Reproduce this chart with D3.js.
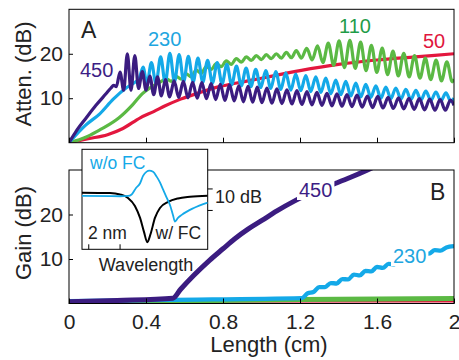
<!DOCTYPE html>
<html>
<head>
<meta charset="utf-8">
<script src="https://cdn.jsdelivr.net/npm/d3@7"></script>
<style>
  body { margin: 0; background: #fff; }
  text { font-family: "Liberation Sans", Arial, sans-serif; fill: #222; }
</style>
</head>
<body>
<div id="chart"></div>
<script>
// ---- data (length in cm, attenuation / gain in dB) ----
const series = ["50", "110", "230", "450"];
const colors = { "50": "#e3173e", "110": "#5bb944", "230": "#14a9e8", "450": "#3b1c80" };
const labelColors = { "50": "#e0163e", "110": "#1f9c48", "230": "#1ea6e0", "450": "#3c1e85" };
const lengthTicks = [0, 0.4, 0.8, 1.2, 1.6, 2];
const dbTicks = [10, 20];

const att50 = [[0,0],[0.1,0.9],[0.2,1.8],[0.28,3.2],[0.37,5.6],[0.44,7.0],[0.5,8.3],[0.58,9.8],[0.68,11.3],[0.78,12.6],[0.89,13.6],[1.0,14.5],[1.2,16.2],[1.4,17.6],[1.6,18.6],[1.8,19.3],[2.0,20.0]];

const att110 = [[0,0],[0.09,1.3],[0.16,2.9],[0.19,3.6],[0.26,5.6],[0.33,8.5],[0.38,11.0],[0.43,12.6],[0.48,13.8],
  [0.505,14.4],[0.531,13.8],[0.557,14.9],[0.583,14.3],[0.609,15.5],[0.635,14.8],[0.661,16.3],[0.687,15.6],[0.713,17.1],[0.739,16.5],
  [0.765,17.8],[0.791,17.1],[0.817,18.4],[0.843,17.6],[0.869,18.9],[0.895,18.1],[0.921,19.3],[0.947,18.5],[0.973,19.6],[0.999,18.7],
  [1.025,19.8],[1.051,18.9],[1.077,20.0],[1.103,19.0],[1.129,20.3],[1.155,19.1],[1.181,20.7],[1.207,19.0],
  [1.235,21.2],[1.263,18.6],[1.291,21.8],[1.319,18.0],[1.347,22.4],[1.375,17.4],[1.403,22.9],[1.431,16.9],[1.459,23.0],[1.487,16.7],
  [1.515,22.6],[1.543,16.2],[1.571,21.9],[1.599,15.8],[1.627,21.3],[1.655,15.3],[1.683,20.6],[1.711,15.0],[1.739,20.1],[1.767,14.8],
  [1.795,19.6],[1.823,14.5],[1.851,19.0],[1.879,14.2],[1.907,18.6],[1.935,13.9],[1.963,18.2],[1.991,13.7],[2.0,14.3]];

const att230 = [[0,0],[0.088,4.0],[0.16,6.5],[0.23,9.8],[0.30,12.4],[0.335,13.4],[0.365,14.5],
  [0.385,17.0],[0.405,13.2],[0.428,18.0],[0.452,13.3],[0.476,19.3],[0.500,13.5],[0.524,20.1],[0.548,13.7],[0.572,19.8],[0.596,13.8],
  [0.620,19.4],[0.645,13.7],[0.670,19.0],[0.695,13.6],[0.720,18.5],[0.745,13.4],[0.770,18.0],[0.795,13.2],[0.820,17.6],[0.845,13.0],
  [0.870,17.2],[0.895,12.8],[0.920,16.8],[0.945,12.6],[0.970,16.5],[0.996,12.4],[1.022,16.2],[1.048,12.2],[1.074,16.0],[1.100,12.0],
  [1.126,15.7],[1.152,11.8],[1.178,15.4],[1.204,11.7],[1.230,15.1],[1.256,11.5],[1.282,14.8],[1.308,11.3],[1.334,14.5],[1.360,11.0],
  [1.386,14.1],[1.412,10.8],[1.438,13.8],[1.464,10.5],[1.490,13.4],[1.516,10.3],[1.542,13.1],[1.568,10.2],[1.594,12.8],[1.620,10.0],
  [1.646,12.5],[1.672,9.9],[1.698,12.3],[1.724,9.8],[1.750,12.0],[1.776,9.7],[1.802,11.8],[1.828,9.6],[1.854,11.6],[1.880,9.5],
  [1.906,11.4],[1.932,9.4],[1.958,11.2],[1.984,9.3],[2.0,10.0]];

const att450 = [[0,0],[0.036,2.5],[0.088,5.5],[0.14,8.4],[0.192,11.0],[0.218,12.3],[0.232,12.9],[0.246,12.6],
  [0.265,15.9],[0.284,11.8],[0.303,20.0],[0.322,11.8],[0.342,19.6],[0.361,12.2],[0.381,16.0],[0.400,11.8],[0.420,15.0],[0.440,10.8],
  [0.460,14.8],[0.480,10.5],[0.501,14.2],[0.523,10.3],[0.546,13.9],[0.570,10.2],[0.594,13.8],[0.618,10.1],[0.642,13.6],[0.666,10.0],
  [0.690,13.5],[0.714,9.9],[0.738,13.3],[0.762,9.7],[0.786,13.1],[0.810,9.5],[0.834,13.0],[0.858,9.4],[0.882,12.8],[0.906,9.2],
  [0.930,12.7],[0.954,9.1],[0.978,12.5],[1.002,9.0],[1.028,12.3],[1.054,8.9],[1.080,12.1],[1.106,8.8],[1.132,11.9],[1.158,8.7],
  [1.184,11.7],[1.210,8.6],[1.236,11.5],[1.262,8.5],[1.288,11.3],[1.314,8.4],[1.340,11.1],[1.366,8.3],[1.392,11.0],[1.418,8.2],
  [1.444,10.8],[1.470,8.1],[1.496,10.7],[1.523,8.0],[1.550,10.5],[1.577,7.9],[1.604,10.4],[1.631,7.8],[1.658,10.2],[1.685,7.7],
  [1.712,10.1],[1.739,7.6],[1.766,10.0],[1.793,7.5],[1.820,9.9],[1.847,7.4],[1.874,9.8],[1.901,7.3],[1.928,9.7],[1.955,7.3],
  [1.982,9.6],[2.0,8.4]];

const gain50 = [[0,0.35],[2.0,0.4]];
const gain110 = [[0,0.3],[1.2,0.9],[2.0,1.1]];
const gain230 = [[0,0.5],[0.5,0.8],[1.21,1.2],[1.24,2.3],[1.27,2.6],[1.30,3.7],[1.33,3.7],[1.36,4.6],[1.39,4.5],[1.42,5.5],
  [1.45,5.4],[1.48,6.5],[1.51,6.3],[1.54,7.3],[1.57,7.2],[1.60,8.2],[1.63,8.0],[1.66,8.9],[1.69,8.8],[1.72,9.7],[1.75,9.6],
  [1.78,10.5],[1.81,10.4],[1.84,11.3],[1.87,11.2],[1.90,12.0],[1.93,11.9],[1.96,12.6],[2.0,12.9]];
const gain450 = [[0,0.4],[0.25,0.7],[0.54,1.2],[0.58,3.2],[0.65,6.4],[0.73,9.7],[0.8,12.3],[0.86,14.5],[0.93,16.7],[1.0,18.6],
  [1.08,20.8],[1.17,23.0],[1.25,24.7],[1.38,26.9],[1.46,28.3],[1.545,29.9],[1.6,31.0]];

// inset: relative wavelength (nm) vs transmission (dB)
const insetNmTicks = [0, 2];
const insetDbTicks = [0, -10];
const withFC = [[-0.4,-1.95],[1.39,-2.09],[2.03,-2.79],[2.54,-4.42],[2.98,-8.14],[3.31,-13.7],[3.56,-20.2],[3.77,-25.0],
  [3.98,-21.2],[4.26,-13.7],[4.58,-9.07],[5.10,-6.28],[5.73,-4.65],[6.50,-3.86],[7.63,-3.35]];
const withoutFC = [[-0.4,-3.49],[2.03,-3.63],[2.54,-3.49],[2.77,-2.79],[3.05,0.23],[3.31,2.42],[3.50,5.81],[3.73,7.81],
  [3.90,8.28],[4.14,7.77],[4.37,5.49],[4.58,2.79],[4.79,-0.70],[5.0,-4.19],[5.22,-7.67],[5.41,-12.3],[5.54,-15.4],
  [5.73,-13.7],[5.97,-12.3],[6.71,-9.21],[7.63,-6.60]];

const attData = { "50": att50, "110": att110, "230": att230, "450": att450 };
const gainData = { "50": gain50, "110": gain110, "230": gain230, "450": gain450 };

// ---- layout ----
const W = 459, H = 360;
const svg = d3.select("#chart").append("svg")
  .attr("width", W).attr("height", H)
  .attr("viewBox", `0 0 ${W} ${H}`);

const x = d3.scaleLinear().domain([0, 2]).range([69, 454]);
const yA = d3.scaleLinear().domain([0, 30]).range([142.7, 9.3]);
const yG = d3.scaleLinear().domain([0, 30]).range([303.5, 170]);

function panel(id, y) {
  const g = svg.append("g");
  svg.append("clipPath").attr("id", id)
    .append("rect")
    .attr("x", x(0)).attr("y", y(30))
    .attr("width", x(2) - x(0)).attr("height", y(0) - y(30));
  g.append("rect")
    .attr("x", x(0)).attr("y", y(30))
    .attr("width", x(2) - x(0)).attr("height", y(0) - y(30))
    .attr("fill", "#fff");
  return g;
}

function frame(g, y, withLabels) {
  g.append("rect")
    .attr("x", x(0)).attr("y", y(30))
    .attr("width", x(2) - x(0)).attr("height", y(0) - y(30))
    .attr("fill", "none").attr("stroke", "#000").attr("stroke-width", 1);

  const ax = g.append("g")
    .attr("transform", `translate(0,${y(0)})`)
    .call(d3.axisBottom(x).tickValues(lengthTicks).tickSize(-5).tickPadding(11)
      .tickFormat(withLabels ? d3.format("") : ""));
  ax.select(".domain").remove();
  ax.selectAll("text").style("font-size", "21px").attr("fill", "#222");
  ax.selectAll("line").attr("stroke", "#000");

  const ay = g.append("g")
    .attr("transform", `translate(${x(0)},0)`)
    .call(d3.axisLeft(y).tickValues(dbTicks).tickSize(-4).tickPadding(6));
  ay.select(".domain").remove();
  ay.selectAll("text").style("font-size", "21px").attr("fill", "#222");
  ay.selectAll("line").attr("stroke", "#000");
}

// ---- top panel: attenuation ----
const gA = panel("clipA", yA);
const lineA = d3.line().x(d => x(d[0])).y(d => yA(d[1])).curve(d3.curveMonotoneX);
gA.append("g").attr("clip-path", "url(#clipA)")
  .selectAll("path")
  .data(series)
  .join("path")
    .attr("d", s => lineA(attData[s]))
    .attr("fill", "none")
    .attr("stroke", s => colors[s])
    .attr("stroke-width", 3.2)
    .attr("stroke-linejoin", "round");
frame(gA, yA, false);

// ---- bottom panel: gain ----
const gG = panel("clipG", yG);
const lineG = d3.line().x(d => x(d[0])).y(d => yG(d[1])).curve(d3.curveMonotoneX);
const gainWidth = { "50": 1.6, "110": 5, "230": 4.3, "450": 5 };
gG.append("g").attr("clip-path", "url(#clipG)")
  .selectAll("path")
  .data(series)
  .join("path")
    .attr("d", s => lineG(gainData[s]))
    .attr("fill", "none")
    .attr("stroke", s => colors[s])
    .attr("stroke-width", s => gainWidth[s])
    .attr("stroke-linejoin", "round");
frame(gG, yG, true);

// ---- labels ----
const topLabels = [
  { s: "450", x: 80, y: 77 }, { s: "230", x: 148, y: 46 },
  { s: "110", x: 339, y: 33 }, { s: "50", x: 423, y: 48 }
];
svg.selectAll(".toplab").data(topLabels).join("text")
  .attr("x", d => d.x).attr("y", d => d.y)
  .style("font-size", "20px")
  .style("fill", d => labelColors[d.s])
  .text(d => d.s);

const botLabels = [{ s: "450", x: 299, y: 197 }, { s: "230", x: 393, y: 263 }];
botLabels.forEach(d => {
  const t = svg.append("text")
    .attr("x", d.x).attr("y", d.y)
    .style("font-size", "20px").style("fill", labelColors[d.s])
    .text(d.s);
  const b = t.node().getBBox();
  svg.insert("rect", () => t.node())
    .attr("x", b.x - 2).attr("y", b.y + 1)
    .attr("width", b.width + 4).attr("height", b.height - 2)
    .attr("fill", "#fff");
});

svg.append("text").attr("x", 81).attr("y", 38).style("font-size", "23px").text("A");
svg.append("text").attr("x", 430).attr("y", 200).style("font-size", "23px").text("B");

svg.append("text")
  .attr("transform", "translate(31,74) rotate(-90)")
  .attr("text-anchor", "middle").style("font-size", "22px")
  .text("Atten. (dB)");
svg.append("text")
  .attr("transform", "translate(31,233) rotate(-90)")
  .attr("text-anchor", "middle").style("font-size", "22px")
  .text("Gain (dB)");
svg.append("text")
  .attr("x", 269).attr("y", 352)
  .attr("text-anchor", "middle").style("font-size", "22px")
  .text("Length (cm)");

// ---- inset ----
const xI = d3.scaleLinear().domain([-0.4, 7.63]).range([82, 207.7]);
const yI = d3.scaleLinear().domain([-28.3, 18.2]).range([249.3, 149.3]);
const inset = svg.append("g");
inset.append("rect")
  .attr("x", xI.range()[0]).attr("y", yI.range()[1])
  .attr("width", xI.range()[1] - xI.range()[0]).attr("height", yI.range()[0] - yI.range()[1])
  .attr("fill", "#fff").attr("stroke", "#000").attr("stroke-width", 1);
svg.append("clipPath").attr("id", "clipI").append("rect")
  .attr("x", xI.range()[0]).attr("y", yI.range()[1])
  .attr("width", xI.range()[1] - xI.range()[0]).attr("height", yI.range()[0] - yI.range()[1]);

const lineI = d3.line().x(d => xI(d[0])).y(d => yI(d[1])).curve(d3.curveMonotoneX);
const ic = inset.append("g").attr("clip-path", "url(#clipI)");
ic.append("path").attr("d", lineI(withFC))
  .attr("fill", "none").attr("stroke", "#000").attr("stroke-width", 2);
ic.append("path").attr("d", lineI(withoutFC))
  .attr("fill", "none").attr("stroke", colors["230"]).attr("stroke-width", 1.8);

const ixb = inset.append("g").attr("transform", `translate(0,${yI.range()[0]})`)
  .call(d3.axisBottom(xI).tickValues(insetNmTicks).tickSize(-5).tickFormat(""));
ixb.select(".domain").remove();
ixb.selectAll("line").attr("stroke", "#000");
const iyr = inset.append("g").attr("transform", `translate(${xI.range()[1]},0)`)
  .call(d3.axisRight(yI).tickValues(insetDbTicks).tickSize(5).tickFormat(""));
iyr.select(".domain").remove();
iyr.selectAll("line").attr("stroke", "#000");

inset.append("text").attr("x", 90).attr("y", 169).style("font-size", "17.5px")
  .style("fill", colors["230"]).text("w/o FC");
inset.append("text").attr("x", 88).attr("y", 239).style("font-size", "17.5px").text("2 nm");
inset.append("text").attr("x", 155.5).attr("y", 239).style("font-size", "17.5px").text("w/ FC");
inset.append("text").attr("x", 146).attr("y", 271).attr("text-anchor", "middle")
  .style("font-size", "18px").text("Wavelength");
inset.append("text").attr("x", 215).attr("y", 203).style("font-size", "18px").text("10 dB");
</script>
</body>
</html>
